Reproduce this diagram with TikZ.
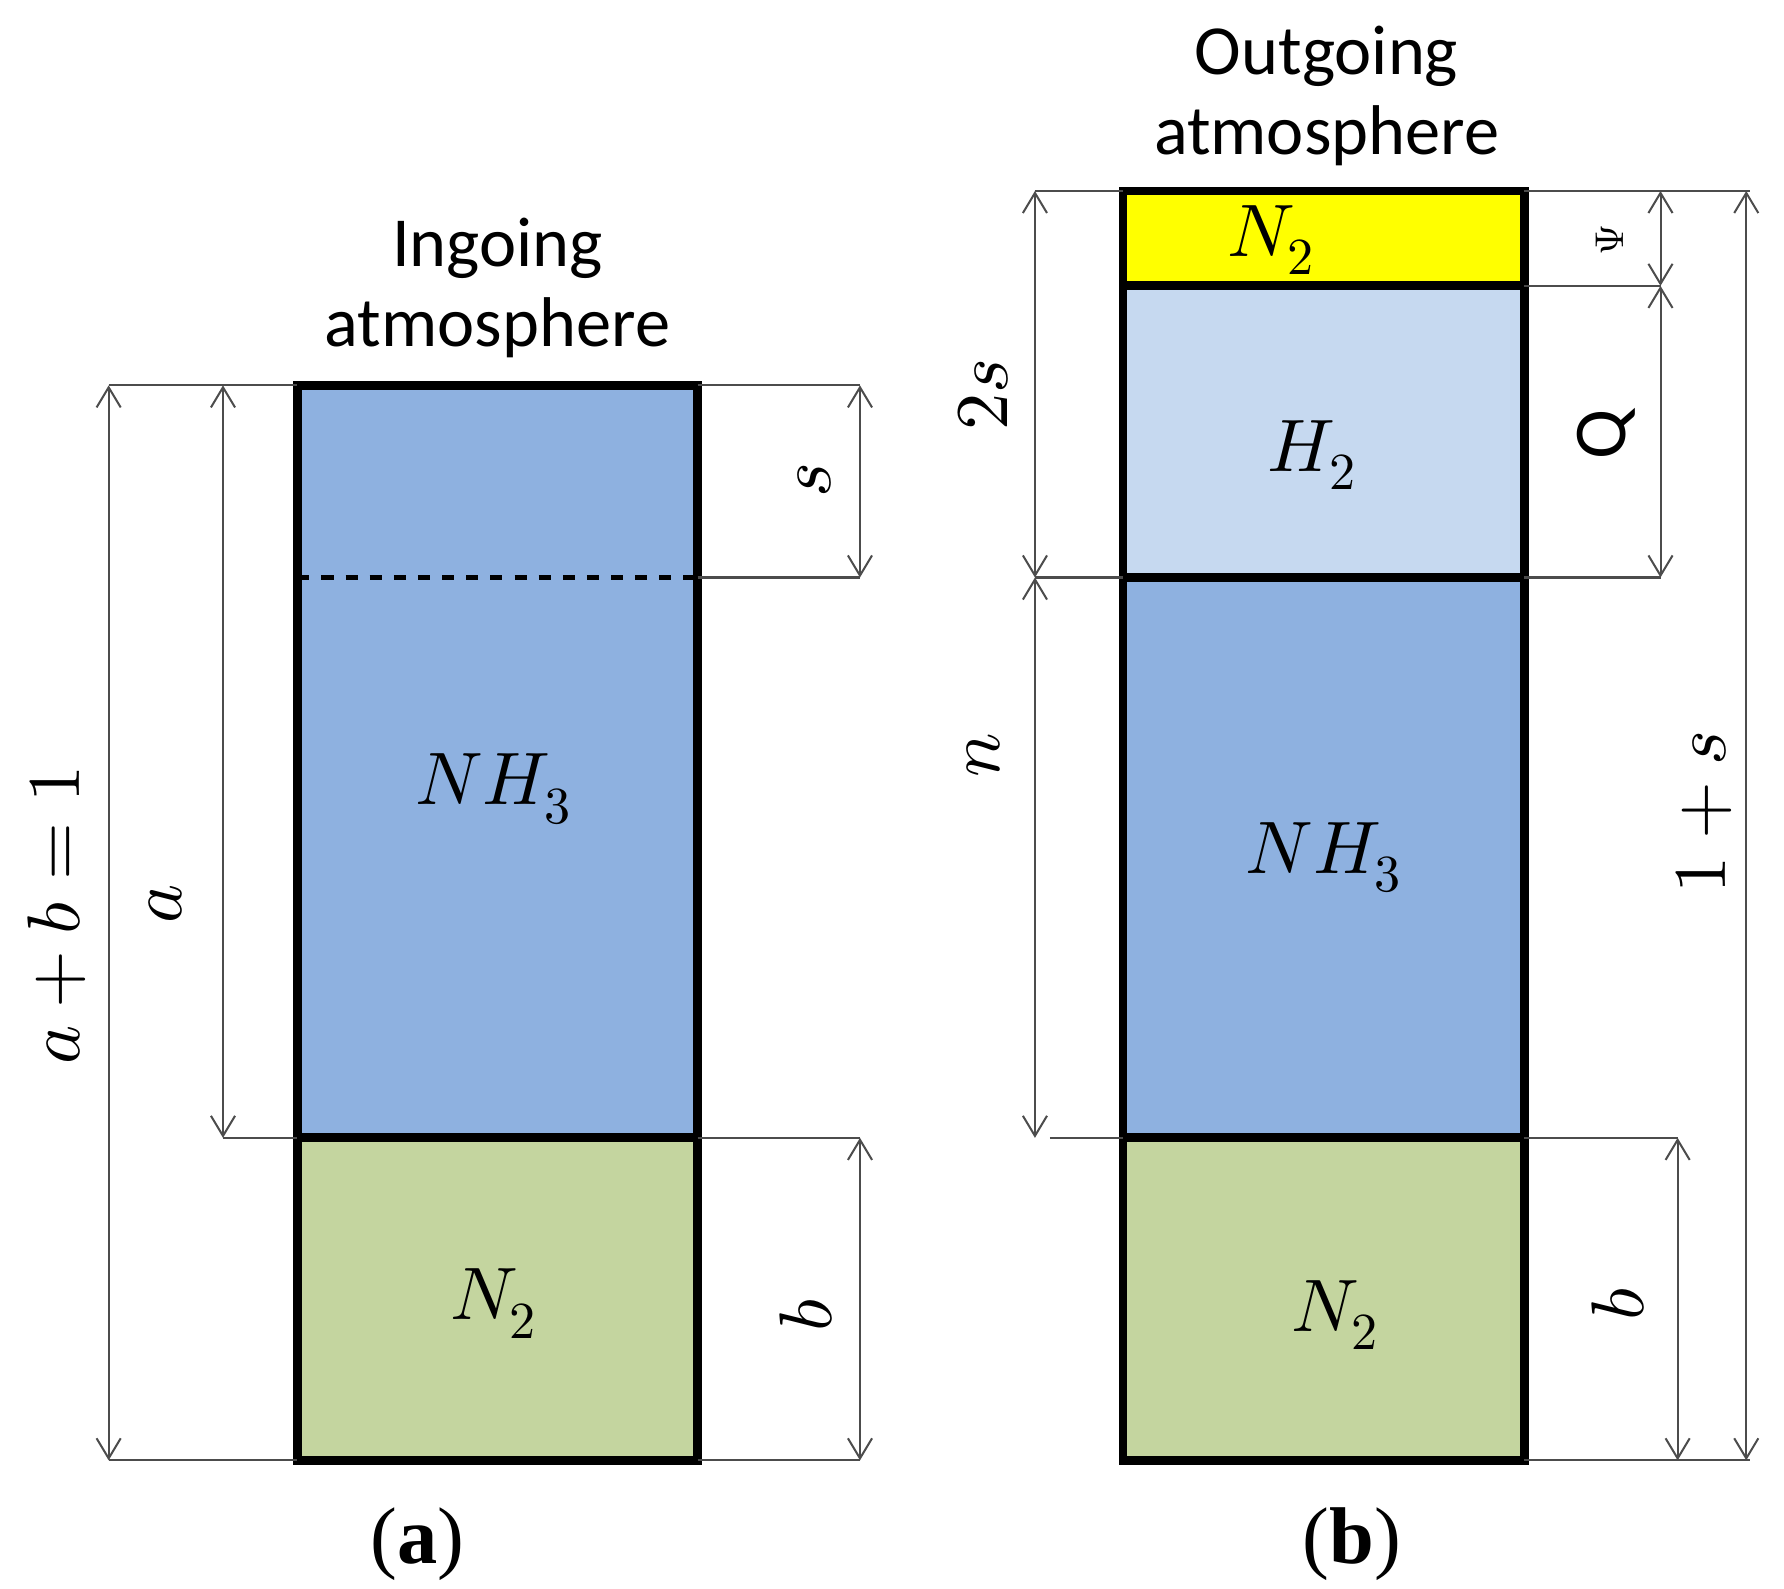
\documentclass[tikz,border=0pt]{standalone}
\usepackage{fontspec}
\setmainfont{Carlito}
\newfontfamily\capfont{Liberation Serif}
\usepackage{unicode-math}
\usetikzlibrary{arrows.meta}
\begin{document}
\begin{tikzpicture}[x=0.01cm,y=-0.01cm,
 box/.style={line width=2.2pt},
 dim/.style={draw=black!70,line width=0.5pt,{Straight Barb[length=5pt,width=6pt]}-{Straight Barb[length=5pt,width=6pt]}},
 ext/.style={draw=black!70,line width=0.5pt},
 lab/.style={font=\fontsize{18.5}{22}\selectfont},
 ttl/.style={font=\fontsize{17.5}{20}\selectfont,align=center},
 captxt/.style={font=\fontsize{20}{22}\selectfont\capfont}]
\useasboundingbox (0,0) rectangle (1560,1389);
\definecolor{nh}{HTML}{8EB1E0}\definecolor{nn}{HTML}{C4D59F}\definecolor{hh}{HTML}{C6D9F0}\definecolor{yy}{HTML}{FFFF00}
% left
\fill[nh] (260,337) rectangle (610,995);
\fill[nn] (260,995) rectangle (610,1277);
\draw[dashed,line width=1pt] (260,505) -- (610,505);
\draw[box] (260,337) rectangle (610,1277) (260,995) -- (610,995);
\node[lab] (l1) at (432,690) {$NH_3$};
\node[lab] (l2) at (432,1140) {$N_2$};
\node[ttl] (t1) at (435,252) {Ingoing\\atmosphere};
\draw[ext] (95,337) -- (260,337) (610,337) -- (752,337) (610,505) -- (752,505) (195,995) -- (260,995) (610,995) -- (752,995) (95,1277) -- (260,1277) (610,1277) -- (752,1277);
\draw[dim] (95,337) -- (95,1277);
\draw[dim] (195,337) -- (195,995);
\draw[dim] (752,337) -- (752,505);
\draw[dim] (752,995) -- (752,1277);
\node[lab,rotate=90] (d1) at (50,800) {$a+b=1$};
\node[lab,rotate=90] (d2) at (145,790) {$a$};
\node[lab,rotate=90] (d3) at (712,420) {$s$};
\node[lab,rotate=90] (d4) at (705,1150) {$b$};
\node[captxt] (ca) at (365,1350) {(\textbf{a})};
% right
\fill[yy] (982,167) rectangle (1333,250);
\fill[hh] (982,250) rectangle (1333,505);
\fill[nh] (982,505) rectangle (1333,995);
\fill[nn] (982,995) rectangle (1333,1277);
\draw[box] (982,167) rectangle (1333,1277) (982,250) -- (1333,250) (982,505) -- (1333,505) (982,995) -- (1333,995);
\node[lab] (r0) at (1112,210) {$N_2$};
\node[lab] (r1) at (1148,398) {$H_2$};
\node[lab] (r2) at (1158,750) {$NH_3$};
\node[lab] (r3) at (1168,1150) {$N_2$};
\node[ttl] (t2) at (1160,84) {Outgoing\\atmosphere};
\draw[ext] (905,167) -- (982,167) (1333,167) -- (1530,167) (1333,250) -- (1452,250) (1333,505) -- (1452,505) (905,505) -- (982,505) (918,995) -- (982,995) (1333,995) -- (1467,995) (1333,1277) -- (1530,1277);
\draw[dim] (905,167) -- (905,505);
\draw[dim] (905,505) -- (905,995);
\draw[dim] (1452,167) -- (1452,250);
\draw[dim] (1452,250) -- (1452,505);
\draw[dim] (1467,995) -- (1467,1277);
\draw[dim] (1527,167) -- (1527,1277);
\node[lab,rotate=90] (e1) at (860,345) {$2s$};
\node[lab,rotate=90] (e2) at (860,660) {$n$};
\node[rotate=90,font=\fontsize{10}{12}\selectfont] (e3) at (1408,210) {$\Psi$};
\node[lab,rotate=90] (e4) at (1405,380) {Q};
\node[lab,rotate=90] (e5) at (1415,1140) {$b$};
\node[lab,rotate=90] (e6) at (1490,710) {$1+s$};
\node[captxt] (cb) at (1182,1350) {(\textbf{b})};
\end{tikzpicture}
\end{document}
